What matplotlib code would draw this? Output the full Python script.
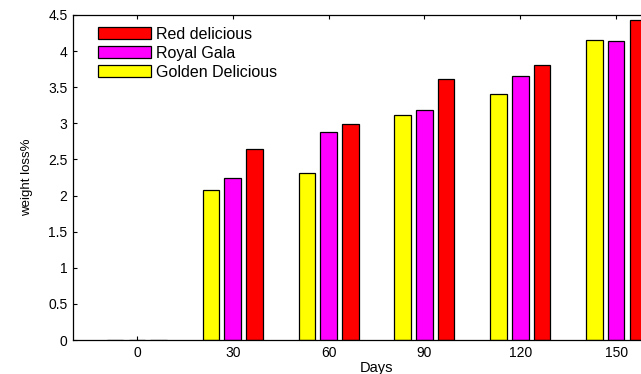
import matplotlib
matplotlib.use("Agg")
import matplotlib.pyplot as plt
import numpy as np

plt.rcParams['font.family'] = ['Liberation Sans', 'DejaVu Sans']

days = [0, 30, 60, 90, 120, 150]
golden = [0.0, 2.08, 2.31, 3.11, 3.40, 4.15]
royal_gala = [0.0, 2.25, 2.885, 3.19, 3.65, 4.14]
red_delicious = [0.0, 2.65, 2.99, 3.62, 3.81, 4.43]
y_ticks = [0, 0.5, 1, 1.5, 2, 2.5, 3, 3.5, 4, 4.5]

fig = plt.figure(figsize=(6.41, 3.74), dpi=100)
ax = fig.add_axes([0.1139, 0.0909, 0.947, 0.869])

x = np.array(days, dtype=float)
step = 6.8
width = 5.2
series = [
    (golden, '#ffff00', 'Golden Delicious', -step),
    (royal_gala, '#ff00ff', 'Royal Gala', 0.0),
    (red_delicious, '#ff0000', 'Red delicious', step),
]
handles = {}
for vals, color, name, off in series:
    b = ax.bar(x + off, vals, width=width, color=color, edgecolor='black',
               linewidth=0.9, label=name, zorder=2)
    handles[name] = b

ax.set_xlim(-20, 170)
ax.set_ylim(0, 4.5)
ax.set_xticks(days)
ax.set_xticklabels([str(d) for d in days])
ax.set_yticks(y_ticks)
ax.set_yticklabels([f"{t:g}" for t in y_ticks])
ax.tick_params(direction='in', top=True, right=True, length=3, width=0.8,
               labelsize=10, pad=4)
for s in ax.spines.values():
    s.set_linewidth(0.9)

ax.set_xlabel('Days', fontsize=10.5, labelpad=1)
ax.set_ylabel('weight loss%', fontsize=9.5, labelpad=11)

order = ['Red delicious', 'Royal Gala', 'Golden Delicious']
leg = ax.legend([handles[n] for n in order], order, loc='upper left',
                bbox_to_anchor=(0.025, 0.993), frameon=False, fontsize=11.5,
                handlelength=3.35, handleheight=0.75, handletextpad=0.3,
                labelspacing=0.25, borderaxespad=0.2)

fig.savefig('out.png', dpi=100)
